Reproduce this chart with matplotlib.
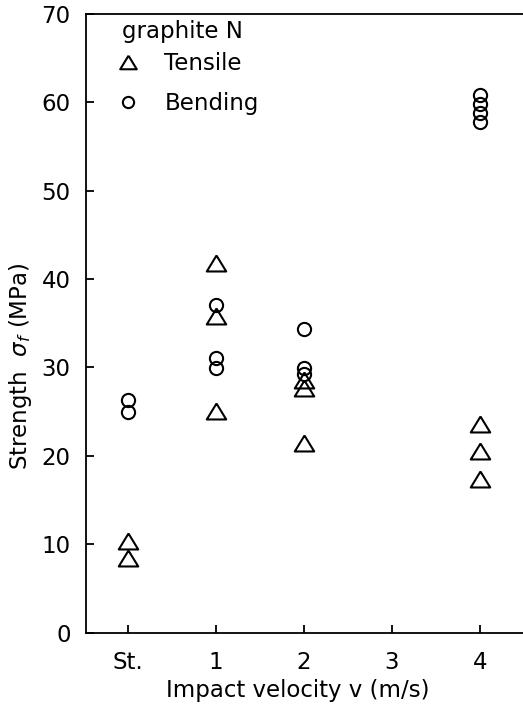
import numpy as np
import matplotlib
matplotlib.use("Agg")
import matplotlib.pyplot as plt

# categories on the x axis (St. = static test)
x_labels = ["St.", "1", "2", "3", "4"]

# tensile strength (MPa) per impact velocity position
tensile_x = [0, 0, 1, 1, 1, 2, 2, 2, 4, 4, 4]
tensile_y = [10.4, 8.4, 41.8, 35.8, 25.1, 28.6, 27.7, 21.4, 23.6, 20.6, 17.4]

# bending strength (MPa)
bending_x = [0, 0, 1, 1, 1, 2, 2, 2, 4, 4, 4, 4]
bending_y = [26.3, 25.0, 37.1, 31.1, 29.9, 34.4, 29.9, 29.3, 60.8, 59.8, 58.8, 57.8]

plt.rcParams['font.family'] = ['DejaVu Sans']
FS = 16.5

# slightly flattened open triangle
tri = [(0, 0.82), (-1, -0.82), (1, -0.82), (0, 0.82)]

fig = plt.figure(figsize=(5.23, 7.05), dpi=100)
ax = fig.add_axes([0.1644, 0.1026, 0.8356, 0.8777])

ax.plot(tensile_x, tensile_y, linestyle='none', marker=tri, markersize=14,
        markerfacecolor='none', markeredgecolor='black', markeredgewidth=1.5,
        label='Tensile')
ax.plot(bending_x, bending_y, linestyle='none', marker='o', markersize=9.5,
        markerfacecolor='none', markeredgecolor='black', markeredgewidth=1.5,
        label='Bending')

ax.set_xlim(-0.48, 4.49)
ax.set_ylim(0, 70)
ax.set_xticks(range(len(x_labels)))
ax.set_xticklabels(x_labels)
ax.set_yticks(np.arange(0, 71, 10))

ax.spines['right'].set_visible(False)
for s in ['left', 'bottom', 'top']:
    ax.spines[s].set_linewidth(1.3)
ax.tick_params(direction='in', length=6, width=1.3, labelsize=FS)
ax.tick_params(axis='y', pad=11)
ax.tick_params(axis='x', pad=13)

ax.set_xlabel('Impact velocity v (m/s)', fontsize=FS)
ax.set_ylabel(r'Strength  $\sigma_f$ (MPa)', fontsize=FS)
ax.xaxis.set_label_coords(0.485, -0.075)
ax.yaxis.set_label_coords(-0.12, 0.43)

ax.text(0.082, 0.971, 'graphite N', transform=ax.transAxes, fontsize=FS,
        ha='left', va='center')
ax.legend(loc='upper left', bbox_to_anchor=(0.064, 0.938), frameon=False,
          fontsize=FS, borderpad=0, borderaxespad=0,
          handlelength=1.2, handletextpad=1.0, labelspacing=0.75,
          markerscale=0.85)

fig.savefig('out.png', dpi=100)
